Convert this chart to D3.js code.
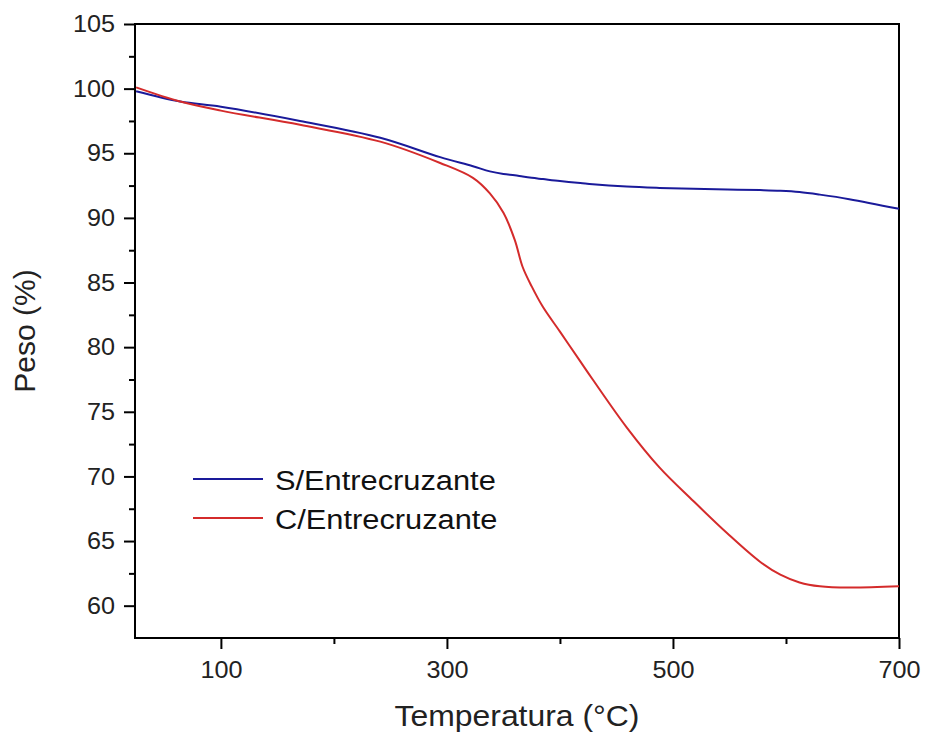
<!DOCTYPE html>
<html>
<head>
<meta charset="utf-8">
<script src="https://d3js.org/d3.v7.min.js"></script>
<style>
  body { margin: 0; background: #fff; }
  text { font-family: Arial, "Liberation Sans", sans-serif; }
</style>
</head>
<body>
<script>
    // values
    var temps = [25, 64, 100, 170, 241, 294, 323, 338, 350, 360, 367, 375, 385, 400, 418, 429, 459, 488, 518, 548, 577, 595, 612, 630, 656, 700];
    var sinEntre = [99.8, 99.0, 98.6, 97.5, 96.2, 94.7, 94.0, 93.6, 93.4, 93.3, 93.2, 93.1, 93.0, 92.85, 92.7, 92.6, 92.42, 92.32, 92.25, 92.2, 92.15, 92.1, 92.0, 91.8, 91.45, 90.7];
    var conEntre = [100.1, 99.0, 98.3, 97.2, 95.9, 94.25, 93.1, 91.9, 90.4, 88.3, 86.2, 84.7, 83.1, 81.2, 78.9, 77.5, 73.8, 70.7, 68.1, 65.6, 63.4, 62.4, 61.8, 61.5, 61.4, 61.5];
    var seriesNames = ['S/Entrecruzante', 'C/Entrecruzante'];
    var seriesColors = ['#1a1a9a', '#d42b2b'];
    var xTickLabels = [100, 300, 500, 700];
    var yTickLabels = [60, 65, 70, 75, 80, 85, 90, 95, 100, 105];

    var width = 925, height = 738;
    var plotL = 135, plotR = 899, plotT = 24, plotB = 638;
    var stretch = 1.05; // the original text is a bit wide

    var svg = d3.select('body').append('svg').attr('width', width).attr('height', height);

    var x = d3.scaleLinear().domain([24, 700]).range([plotL, plotR]);
    var y = d3.scaleLinear().domain([57.5, 105]).range([plotB, plotT]);

    // frame
    svg.append('rect').attr('x', plotL).attr('y', plotT).attr('width', plotR - plotL).attr('height', plotB - plotT)
        .attr('fill', 'none').attr('stroke', '#000').attr('stroke-width', 2);

    // x axis: major + minor ticks
    var xAxis = svg.append('g').attr('transform', 'translate(0,' + plotB + ')');
    xAxis.append('g').call(d3.axisBottom(x).tickValues([200, 400, 600]).tickSize(6).tickFormat(''));
    xAxis.append('g').call(d3.axisBottom(x).tickValues(xTickLabels).tickSize(11).tickPadding(12).tickFormat(d3.format('d')));
    xAxis.selectAll('.domain').remove();
    xAxis.selectAll('line').attr('stroke', '#000').attr('stroke-width', 2);
    xAxis.selectAll('text').attr('font-size', 24).attr('fill', '#222').attr('transform', 'scale(' + stretch + ',1)');

    // y axis
    var minorY = d3.range(62.5, 105, 5);
    var yAxis = svg.append('g').attr('transform', 'translate(' + plotL + ',0)');
    yAxis.append('g').call(d3.axisLeft(y).tickValues(minorY).tickSize(6).tickFormat(''));
    yAxis.append('g').call(d3.axisLeft(y).tickValues(yTickLabels).tickSize(11).tickPadding(8).tickFormat(d3.format('d')));
    yAxis.selectAll('.domain').remove();
    yAxis.selectAll('line').attr('stroke', '#000').attr('stroke-width', 2);
    yAxis.selectAll('text').attr('font-size', 24).attr('fill', '#222').attr('transform', 'scale(' + stretch + ',1)');

    // axis titles
    svg.append('text').attr('transform', 'translate(' + ((plotL + plotR) / 2) + ',726) scale(1.1,1)')
        .attr('text-anchor', 'middle').attr('font-size', 29).attr('fill', '#222').text('Temperatura (°C)');
    svg.append('text').attr('transform', 'translate(35,' + ((plotT + plotB) / 2) + ') rotate(-90)')
        .attr('text-anchor', 'middle').attr('font-size', 30).attr('fill', '#222').text('Peso (%)');

    // lines
    var line = d3.line().x(function(d){ return x(d[0]); }).y(function(d){ return y(d[1]); }).curve(d3.curveCatmullRom.alpha(0.5));
    [sinEntre, conEntre].forEach(function(vals, i){
        svg.append('path').datum(temps.map(function(t, j){ return [t, vals[j]]; }))
            .attr('d', line).attr('fill', 'none').attr('stroke', seriesColors[i]).attr('stroke-width', 2);
    });

    // legend
    seriesNames.forEach(function(name, i){
        var ly = 479 + i * 39;
        svg.append('line').attr('x1', 193).attr('x2', 263).attr('y1', ly).attr('y2', ly)
            .attr('stroke', seriesColors[i]).attr('stroke-width', 2);
        svg.append('text').attr('transform', 'translate(275,' + (ly + 11) + ') scale(1.1,1)')
            .attr('font-size', 28).attr('fill', '#111').text(name);
    });
</script>
</body>
</html>
